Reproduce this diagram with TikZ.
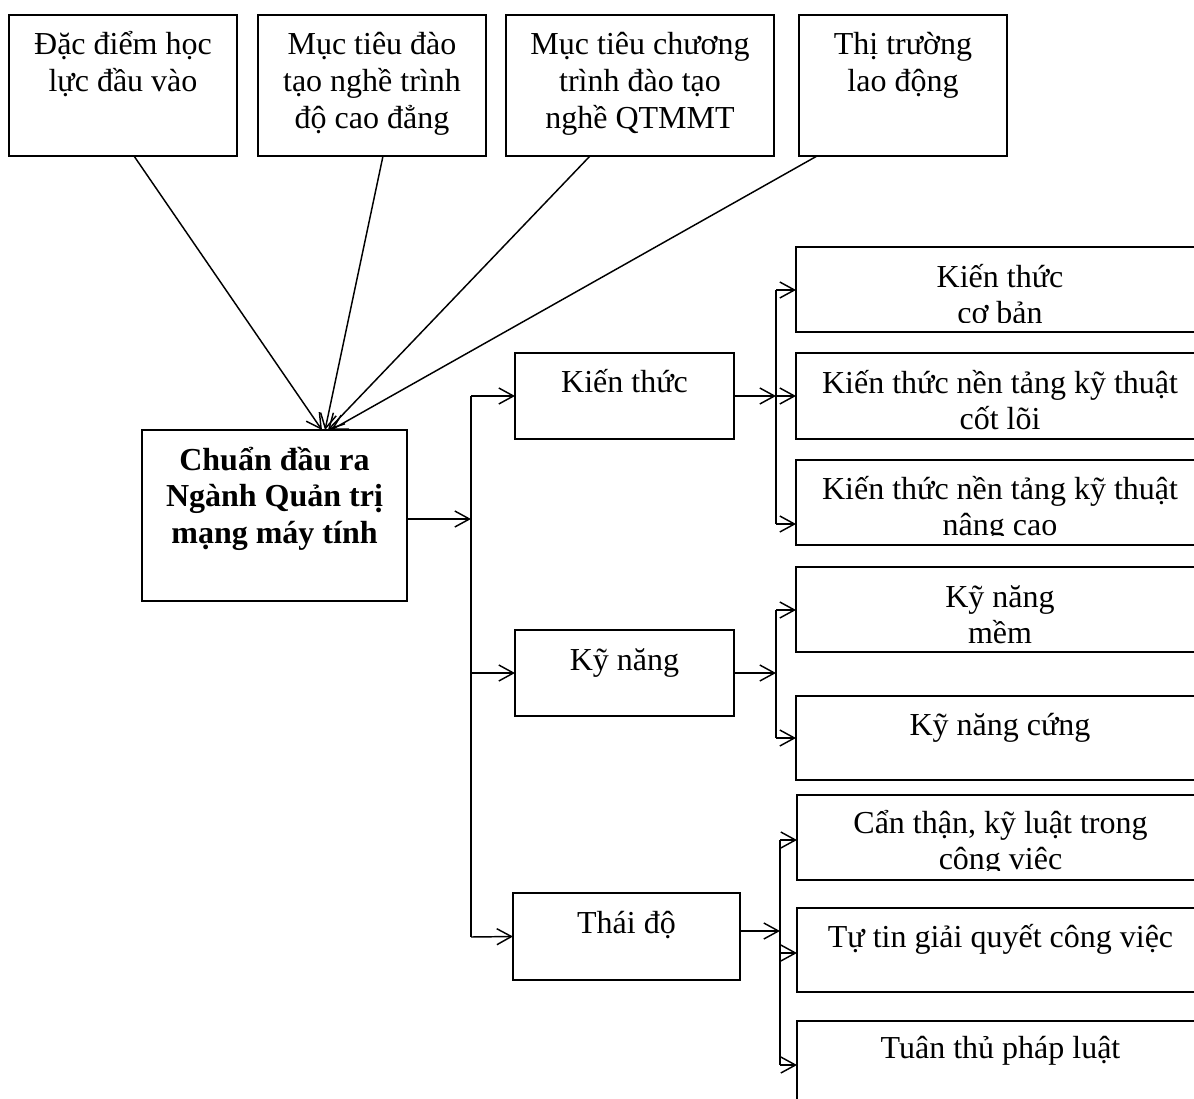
\documentclass[tikz,border=0pt]{standalone}
\usepackage{fontspec}
\setmainfont{Liberation Serif}
\usetikzlibrary{arrows.meta}
\newcommand{\mytxt}[1]{\parbox[t]{320pt}{\centering #1}}
\begin{document}
\begin{tikzpicture}[x=0.75pt,y=-0.75pt,
  box/.style={draw, line width=1.5pt, inner sep=0pt, outer sep=0pt, rectangle},
  lbl/.style={inner sep=0pt, outer sep=0pt, anchor=base, font=\fontsize{24}{27.4}\selectfont},
  conn/.style={line width=1.1pt},
  arr/.style={conn, -{Straight Barb[length=11pt,width=12pt]}}]
\useasboundingbox (0,0) rectangle (1194,1098);
\clip (0,0) rectangle (1194,1098);

% top boxes
\node[box, minimum width=171pt, minimum height=105.75pt] (b1) at (123,85.5) {};
\node[box, minimum width=171pt, minimum height=105.75pt] (b2) at (372,85.5) {};
\node[box, minimum width=201pt, minimum height=105.75pt] (b3) at (640,85.5) {};
\node[box, minimum width=156pt, minimum height=105.75pt] (b4) at (903,85.5) {};
\node[lbl] (t1) at (123,55) {\mytxt{Đặc điểm học\\lực đầu vào}};
\node[lbl] (t2) at (372,55) {\mytxt{Mục tiêu đào\\tạo nghề trình\\độ cao đẳng}};
\node[lbl] (t3) at (640,55) {\mytxt{Mục tiêu chương\\trình đào tạo\\nghề QTMMT}};
\node[lbl] (t4) at (903,55) {\mytxt{Thị trường\\lao động}};

% main box
\node[box, minimum width=198.75pt, minimum height=128.25pt] (main) at (274.5,515.5) {};
\node[lbl, font=\fontsize{24}{27.4}\selectfont\bfseries] (tm) at (274.5,470) {\mytxt{Chuẩn đầu ra\\Ngành Quản trị\\mạng máy tính}};

% middle boxes
\node[box, minimum width=164.25pt, minimum height=64.5pt] (kt) at (624.5,396) {};
\node[box, minimum width=164.25pt, minimum height=64.5pt] (kn) at (624.5,673) {};
\node[box, minimum width=170.25pt, minimum height=65.25pt] (td) at (626.5,936.5) {};
\node[lbl] (tkt) at (624.5,392) {Kiến thức};
\node[lbl] (tkn) at (624.5,670) {Kỹ năng};
\node[lbl] (ttd) at (626.5,933) {Thái độ};

% right boxes
\node[box, minimum width=306pt, minimum height=63.75pt] (kA) at (1000,289.5) {};
\node[box, minimum width=306pt, minimum height=64.5pt] (kB) at (1000,396) {};
\node[box, minimum width=306pt, minimum height=63.75pt] (kC) at (1000,502.5) {};
\node[box, minimum width=306pt, minimum height=63.75pt] (sA) at (1000,609.5) {};
\node[box, minimum width=306pt, minimum height=63pt] (sB) at (1000,738) {};
\node[box, minimum width=305.25pt, minimum height=63.75pt] (aA) at (1000.5,837.5) {};
\node[box, minimum width=305.25pt, minimum height=63pt] (aB) at (1000.5,950) {};
\node[box, minimum width=305.25pt, minimum height=63.75pt] (aC) at (1000.5,1063.5) {};

\begin{scope}\clip (796,247) rectangle (1194,322);
\node[lbl] (tkA) at (1000,287) {\mytxt{Kiến thức\\cơ bản}};\end{scope}
\begin{scope}\clip (796,353) rectangle (1194,429);
\node[lbl] (tkB) at (1000,393) {\mytxt{Kiến thức nền tảng kỹ thuật\\cốt lõi}};\end{scope}
\begin{scope}\clip (796,460) rectangle (1194,535);
\node[lbl] (tkC) at (1000,499) {\mytxt{Kiến thức nền tảng kỹ thuật\\nâng cao}};\end{scope}
\begin{scope}\clip (796,567) rectangle (1194,645);
\node[lbl] (tsA) at (1000,607) {\mytxt{Kỹ năng\\mềm}};\end{scope}
\node[lbl] (tsB) at (1000,735) {Kỹ năng cứng};
\begin{scope}\clip (797,795) rectangle (1194,870);
\node[lbl] (taA) at (1000.5,833) {\mytxt{Cẩn thận, kỹ luật trong\\công việc}};\end{scope}
\node[lbl] (taB) at (1000.5,947) {Tự tin giải quyết công việc};
\node[lbl] (taC) at (1000.5,1058) {Tuân thủ pháp luật};

% converging arrows
\draw[arr] ([xshift=8.25pt]b1.south) -- ([xshift=35.6pt]main.north);
\draw[arr] ([xshift=8.25pt]b2.south) -- ([xshift=37.9pt]main.north);
\draw[arr] ([xshift=-37.5pt]b3.south) -- ([xshift=40.1pt]main.north);
\draw[arr] ([xshift=-64.5pt]b4.south) -- ([xshift=42.4pt]main.north);

% left bus
\coordinate (j0) at (471,519);
\coordinate (jt) at (471,396);
\coordinate (jm) at (471,673);
\coordinate (jb) at (471,937);
\draw[arr] (main.east |- j0) -- (j0);
\draw[conn] (jt) -- (jb);
\draw[arr] (jt) -- (kt.west);
\draw[arr] (jm) -- (kn.west);
\draw[arr] (jb) -- (td.west);

% bracket 1
\coordinate (r1t) at (776,290);
\coordinate (r1m) at (776,396);
\coordinate (r1b) at (776,524);
\draw[arr] (kt.east) -- (r1m);
\draw[conn] (r1t) -- (r1b);
\draw[arr] (r1t) -- (kA.west |- r1t);
\draw[arr] (r1m) -- (kB.west |- r1m);
\draw[arr] (r1b) -- (kC.west |- r1b);

% bracket 2
\coordinate (r2t) at (776,610);
\coordinate (r2m) at (776,673);
\coordinate (r2b) at (776,738);
\draw[arr] (kn.east) -- (r2m);
\draw[conn] (r2t) -- (r2b);
\draw[arr] (r2t) -- (sA.west |- r2t);
\draw[arr] (r2b) -- (sB.west |- r2b);

% bracket 3
\coordinate (r3t) at (780,840);
\coordinate (r3m) at (780,931);
\coordinate (r3b) at (780,1065);
\draw[arr] (td.east |- r3m) -- (r3m);
\draw[conn] (r3t) -- (r3b);
\draw[arr] (r3t) -- (aA.west |- r3t);
\draw[arr] (r3b) -- (aC.west |- r3b);
\coordinate (r3n) at (780,953);
\draw[arr] (r3n) -- (aB.west |- r3n);
\end{tikzpicture}
\end{document}
